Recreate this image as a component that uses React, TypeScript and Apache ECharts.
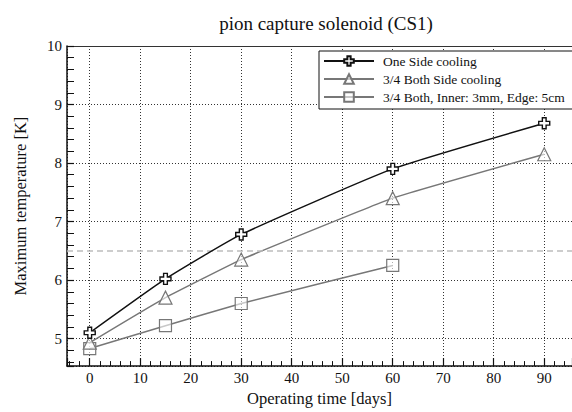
import React, { useEffect, useRef } from "react";
import * as echarts from "echarts";

const days = [0, 15, 30, 60, 90];
const oneSide = [5.1, 6.02, 6.78, 7.9, 8.68];
const bothSide = [4.93, 5.7, 6.35, 7.4, 8.15];
const bothInner = [4.83, 5.22, 5.6, 6.25];
const seriesNames = [
  "One Side cooling",
  "3/4 Both Side cooling",
  "3/4 Both, Inner: 3mm, Edge: 5cm",
];
const limitTemp = 6.5;

const FONT = "Liberation Serif";
const crossPath = "path://M3.3,0 H6.7 V3.3 H10 V6.7 H6.7 V10 H3.3 V6.7 H0 V3.3 H3.3 Z";

function pairs(xs: number[], ys: number[]) {
  return ys.map((y, i) => [xs[i], y]);
}

export default function App() {
  const ref = useRef<HTMLDivElement>(null);
  useEffect(() => {
    if (!ref.current) return;
    const chart = echarts.init(ref.current, null, { renderer: "svg" });
    const gridLine = { show: true, lineStyle: { color: "#333", type: [1, 2] as any, width: 1 } };
    chart.setOption({
      animation: false,
      backgroundColor: "#fff",
      textStyle: { fontFamily: FONT },
      title: {
        text: "pion capture solenoid (CS1)",
        left: 321,
        textAlign: "center",
        top: 9,
        textStyle: { fontFamily: FONT, fontSize: 19, fontWeight: "normal", color: "#111" },
      },
      grid: { left: 67, right: -3, top: 46, bottom: 37, containLabel: false },
      legend: {
        orient: "vertical",
        left: 319,
        top: 51,
        backgroundColor: "#fff",
        borderColor: "#111",
        borderWidth: 1,
        padding: [3, 10, 5, 4],
        itemWidth: 50,
        itemHeight: 12,
        itemGap: 4,
        textStyle: { fontFamily: FONT, fontSize: 13.5, color: "#111", padding: [0, 0, 0, 4] },
        data: seriesNames,
      },
      xAxis: [
        {
          type: "value",
          min: -4.5,
          max: 95.5,
          splitNumber: 10,
          name: "Operating time [days]",
          nameLocation: "middle",
          nameGap: 19,
          nameTextStyle: { fontFamily: FONT, fontSize: 16.5, color: "#111" },
          axisLine: { show: true, onZero: false, lineStyle: { color: "#111", width: 1.5 } },
          axisTick: { show: true, inside: true, length: 8, lineStyle: { color: "#111", width: 1.2 } },
          minorTick: { show: true, splitNumber: 5, length: 5, lineStyle: { color: "#111", width: 1 } },
          axisLabel: {
            fontFamily: FONT,
            fontSize: 15,
            color: "#111",
            margin: 4,
            formatter: (v: number) => (Math.abs(v - Math.round(v)) < 1e-6 && v >= 0 ? String(v) : ""),
            showMinLabel: false,
            showMaxLabel: false,
          },
          splitLine: gridLine,
        },
        {
          type: "value",
          position: "top",
          min: -4.5,
          max: 95.5,
          axisLine: { show: true, lineStyle: { color: "#333", width: 1.2 } },
          axisTick: { show: false },
          axisLabel: { show: false },
          splitLine: { show: false },
        },
      ],
      yAxis: {
        type: "value",
        min: 4.53,
        max: 10,
        splitNumber: 5,
        name: "Maximum temperature [K]",
        nameLocation: "middle",
        nameGap: 38,
        nameTextStyle: { fontFamily: FONT, fontSize: 16.5, color: "#111" },
        axisLine: { show: true, onZero: false, lineStyle: { color: "#111", width: 1.5 } },
        axisTick: { show: true, inside: true, length: 7, lineStyle: { color: "#111", width: 1.2 } },
        minorTick: { show: true, splitNumber: 5, length: 7, lineStyle: { color: "#111", width: 1 } },
        axisLabel: {
          fontFamily: FONT,
          fontSize: 15,
          color: "#111",
          margin: 5,
          formatter: (v: number) => (Math.abs(v - Math.round(v)) < 1e-6 ? String(v) : ""),
        },
        splitLine: gridLine,
      },
      series: [
        {
          name: seriesNames[0],
          type: "line",
          data: pairs(days, oneSide),
          symbol: crossPath,
          symbolSize: 11,
          smooth: 0.15,
          z: 5,
          lineStyle: { color: "#111", width: 1.5 },
          itemStyle: { color: "#fff", borderColor: "#111", borderWidth: 1.4 },
          markLine: {
            silent: true,
            symbol: "none",
            label: { show: false },
            lineStyle: { color: "#bdbdbd", type: [6, 4] as any, width: 1.5 },
            data: [{ yAxis: limitTemp }],
          },
        },
        {
          name: seriesNames[1],
          type: "line",
          data: pairs(days, bothSide),
          symbol: "triangle",
          symbolSize: 13,
          smooth: 0.1,
          z: 4,
          lineStyle: { color: "#777", width: 1.5 },
          itemStyle: { color: "rgba(255,255,255,0.6)", borderColor: "#777", borderWidth: 1.2 },
        },
        {
          name: seriesNames[2],
          type: "line",
          data: pairs(days, bothInner),
          symbol: "rect",
          symbolSize: 12,
          smooth: 0.1,
          z: 3,
          lineStyle: { color: "#777", width: 1.5 },
          itemStyle: { color: "rgba(255,255,255,0.6)", borderColor: "#777", borderWidth: 1.2 },
        },
      ],
    });
    return () => chart.dispose();
  }, []);
  return <div ref={ref} style={{ width: 572, height: 412, position: "absolute", left: 0, top: 0 }} />;
}
